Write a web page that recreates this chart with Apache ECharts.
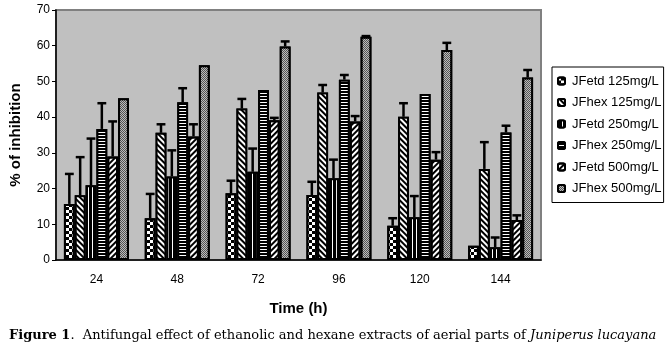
<!DOCTYPE html>
<html>
<head>
<meta charset="utf-8">
<script src="https://cdn.jsdelivr.net/npm/echarts@6/dist/echarts.min.js"></script>
<style>
  html, body { margin: 0; padding: 0; background: #fff; }
  #chart { width: 665px; height: 345px; }
</style>
</head>
<body>
<div id="chart"></div>
<script>
// time points (h)
const categories = ['24', '48', '72', '96', '120', '144']
const seriesNames = ['JFetd 125mg/L', 'JFhex 125mg/L', 'JFetd 250mg/L', 'JFhex 250mg/L', 'JFetd 500mg/L', 'JFhex 500mg/L']
const yTicks = [0, 10, 20, 30, 40, 50, 60, 70]

// % of inhibition
const jfetd125 = [15.7, 11.7, 18.7, 18.2, 9.6, 4.0]
const jfhex125 = [18.1, 35.6, 42.4, 46.9, 40.1, 25.5]
const jfetd250 = [20.9, 23.4, 24.7, 22.9, 12.0, 3.6]
const jfhex250 = [36.7, 44.2, 47.6, 50.5, 46.5, 35.7]
const jfetd500 = [29.0, 34.6, 39.1, 38.8, 28.1, 11.2]
const jfhex500 = [45.3, 54.5, 59.8, 62.5, 58.8, 51.1]

// error (upper) bars
const errEtd125 = [8.4, 6.8, 3.5, 3.7, 2.1, 0]
const errHex125 = [10.7, 2.4, 2.7, 2.1, 3.8, 7.5]
const errEtd250 = [13.1, 7.3, 6.5, 5.2, 5.9, 2.7]
const errHex250 = [7.2, 3.9, 0, 1.3, 0, 1.9]
const errEtd500 = [9.8, 3.4, 0.7, 1.5, 2.1, 1.3]
const errHex500 = [0, 0, 1.4, 0.2, 2.0, 2.1]

const values = [jfetd125, jfhex125, jfetd250, jfhex250, jfetd500, jfhex500]
const errors = [errEtd125, errHex125, errEtd250, errHex250, errEtd500, errHex500]

const BAR_RATIO = 0.134
const SANS = 'Liberation Sans, Arial, sans-serif'

// fill patterns (Excel style b/w hatches)
const styles = [
  { color: '#fff', decal: { symbol: 'rect', symbolSize: 1, color: '#000', dashArrayX: [[3, 3], [0, 3, 3, 0]], dashArrayY: [3, 0] } },
  { color: '#000', decal: { symbol: 'rect', symbolSize: 1, color: '#fff', dashArrayX: [1, 0], dashArrayY: [2, 2], rotation: Math.PI / 4 } },
  { color: '#000', decal: { symbol: 'rect', symbolSize: 1, color: '#fff', dashArrayX: [1, 3], dashArrayY: [10, 0] } },
  { color: '#000', decal: { symbol: 'rect', symbolSize: 1, color: '#fff', dashArrayX: [10, 0], dashArrayY: [1, 2] } },
  { color: '#fff', decal: { symbol: 'rect', symbolSize: 1, color: '#000', dashArrayX: [1, 0], dashArrayY: [2, 2], rotation: -Math.PI / 4 } },
  { color: '#555', decal: { symbol: 'rect', symbolSize: 1, color: '#bbb', dashArrayX: [[1, 1], [0, 1, 1, 0]], dashArrayY: [1, 0] } }
]

const chart = echarts.init(document.getElementById('chart'))

const barSeries = seriesNames.map((name, i) => ({
  name,
  type: 'bar',
  barWidth: (BAR_RATIO * 100) + '%',
  barGap: '0%',
  data: values[i],
  itemStyle: {
    color: styles[i].color,
    decal: styles[i].decal,
    borderColor: '#000',
    borderWidth: 2
  },
  z: 2
}))

// error bars drawn on top of each bar
const errSeries = seriesNames.map((name, i) => ({
  name: 'err' + i,
  type: 'custom',
  z: 5,
  data: values[i].map((v, k) => [k, v, v + errors[i][k]]),
  renderItem: (params, api) => {
    const top = api.value(2)
    const base = api.value(1)
    if (top - base <= 0) return null
    const bw = api.size([1, 0])[0]
    const barW = bw * BAR_RATIO
    const p0 = api.coord([api.value(0), base])
    const p1 = api.coord([api.value(0), top])
    const x = p0[0] + (i - 2.5) * barW
    return {
      type: 'group',
      children: [
        { type: 'line', shape: { x1: x, y1: p0[1], x2: x, y2: p1[1] }, style: { stroke: '#000', lineWidth: 2.5 } },
        { type: 'line', shape: { x1: x - barW / 2 + 1, y1: p1[1], x2: x + barW / 2 - 1, y2: p1[1] }, style: { stroke: '#000', lineWidth: 2.5 } }
      ]
    }
  }
}))

const option = {
  animation: false,
  backgroundColor: '#fff',
  title: {
    left: 4,
    top: 324,
    text: '{b|Figure 1}.  Antifungal effect of ethanolic and hexane extracts of aerial parts of {i|Juniperus lucayana}',
    textStyle: {
      fontFamily: 'DejaVu Serif',
      fontSize: 13,
      fontWeight: 'normal',
      color: '#000',
      rich: {
        b: { fontFamily: 'DejaVu Serif', fontSize: 13, fontWeight: 'bold', color: '#000' },
        i: { fontFamily: 'DejaVu Serif', fontSize: 13, fontStyle: 'italic', color: '#000' }
      }
    }
  },
  grid: {
    left: 53,
    right: 124,
    top: 10,
    bottom: 85,
    show: true,
    backgroundColor: '#c0c0c0',
    borderColor: '#808080',
    borderWidth: 2
  },
  legend: {
    data: seriesNames,
    orient: 'vertical',
    left: 552,
    top: 67,
    width: 109,
    itemWidth: 7,
    itemHeight: 7,
    itemGap: 7.5,
    padding: [7, 2, 7, 5],
    backgroundColor: '#fff',
    borderColor: '#000',
    borderWidth: 1,
    borderRadius: 0,
    textStyle: { fontFamily: SANS, fontSize: 13, color: '#000', lineHeight: 14, padding: [0, 0, 0, 2] }
  },
  xAxis: {
    type: 'category',
    data: categories,
    name: 'Time (h)',
    nameLocation: 'middle',
    nameGap: 41,
    nameTextStyle: { fontFamily: SANS, fontSize: 15, fontWeight: 'bold', color: '#000' },
    axisLine: { lineStyle: { color: '#000', width: 1.5 } },
    axisTick: { inside: false, length: 4, lineStyle: { color: '#000' } },
    axisLabel: { fontFamily: SANS, fontSize: 12, color: '#000', margin: 14 },
    splitLine: { show: false }
  },
  yAxis: {
    type: 'value',
    min: yTicks[0],
    max: yTicks[yTicks.length - 1],
    interval: 10,
    name: '% of inhibition',
    nameLocation: 'middle',
    nameGap: 33,
    nameRotate: 90,
    nameTextStyle: { fontFamily: SANS, fontSize: 15, fontWeight: 'bold', color: '#000' },
    axisLine: { show: true, lineStyle: { color: '#000', width: 1.5 } },
    axisTick: { show: true, length: 4, lineStyle: { color: '#000' } },
    axisLabel: { fontFamily: SANS, fontSize: 12, color: '#000', margin: 6 },
    splitLine: { show: false }
  },
  series: [...barSeries, ...errSeries]
}

chart.setOption(option)
</script>
</body>
</html>
